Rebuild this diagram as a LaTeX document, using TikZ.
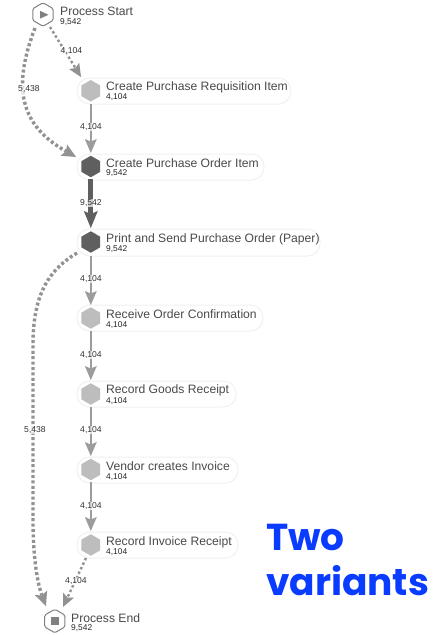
\documentclass[tikz,border=0pt]{standalone}
\usepackage{fontspec}
\setmainfont{Liberation Sans}
\newfontfamily\popp{Poppins}
\usetikzlibrary{shapes.geometric,arrows.meta,calc}
\definecolor{lightact}{HTML}{BDBDBD}
\definecolor{darkact}{HTML}{5F5F5F}
\definecolor{edgeg}{HTML}{9C9C9C}
\definecolor{dote}{HTML}{929292}
\definecolor{ringg}{HTML}{808080}
\definecolor{pillb}{HTML}{F1F1F1}
\definecolor{txt}{HTML}{4A4A4A}
\definecolor{bluet}{HTML}{0A3CFF}
\tikzset{
  x=1pt,y=-1pt,
  hexa/.style={regular polygon,regular polygon sides=6,shape border rotate=30,minimum size=21.5pt,inner sep=0pt,draw=none},
  lighthex/.style={hexa,fill=lightact},
  darkhex/.style={hexa,fill=darkact},
  ringhex/.style={hexa,fill=white,draw=ringg,line width=1pt,rounded corners=1.5pt,minimum size=23.5pt},
  pill/.style={rounded corners=12.5pt,draw=pillb,line width=1pt,fill=white},
  title/.style={anchor=west,inner sep=0pt,text=txt,font=\fontsize{12.15}{12}\selectfont},
  freq/.style={anchor=west,inner sep=0pt,text=black!85,font=\fontsize{8.4}{9}\selectfont},
  elabel/.style={inner sep=.5pt,fill=white,fill opacity=.7,text opacity=1,text=black!80,font=\fontsize{8.6}{9}\selectfont},
  solidedge/.style={draw=edgeg,line width=2.6pt,-{Stealth[length=14pt,width=12pt,inset=2.5pt,line width=0pt]}},
  heavyedge/.style={draw=darkact,line width=5pt,-{Stealth[length=17pt,width=14pt,inset=3pt,line width=0pt]}},
  dotthin/.style={draw=dote,line width=2.4pt,dash pattern=on 2.5pt off 2.5pt,-{Stealth[length=13pt,width=12pt,inset=2.5pt,line width=0pt]}},
  dotthick/.style={draw=dote,line width=3.4pt,dash pattern=on 3pt off 2.4pt,-{Stealth[length=14pt,width=13pt,inset=2.5pt,line width=0pt]}},
}
\begin{document}
\begin{tikzpicture}
\useasboundingbox (0,0) rectangle (440,635);
\fill[white] (0,0) rectangle (440,635);
% pills
\draw[pill] (77,78) rectangle (291,104);
\draw[pill] (77,154) rectangle (264,180);
\draw[pill] (77,229) rectangle (320,256);
\draw[pill] (77,305) rectangle (263,331);
\draw[pill] (77,381) rectangle (236,407);
\draw[pill] (77,457) rectangle (238,483);
\draw[pill] (77,532) rectangle (238,558);
% hexagons
\node[ringhex] (start) at (43,14.5) {};
\node[lighthex] (req) at (90.8,90.8) {};
\node[darkhex] (po) at (90.8,166.5) {};
\node[darkhex] (print) at (90.8,242) {};
\node[lighthex] (conf) at (90.8,318) {};
\node[lighthex] (goods) at (90.8,394) {};
\node[lighthex] (inv) at (90.8,469.5) {};
\node[lighthex] (rec) at (90.8,545) {};
\node[ringhex] (end) at (54.8,621) {};
\fill[ringg] (40,10.8) -- (48.5,14.8) -- (40,18.6) -- cycle;
\fill[ringg] (51,617) rectangle (58.6,624.6);
% coordinates for edge ends
\coordinate (sA) at (50,27);
\coordinate (sB) at (35,28);
\coordinate (reqT) at (81,77);
\coordinate (poL) at (76,157);
\coordinate (prL) at (77,253);
\coordinate (endL) at (46,606);
\coordinate (recB) at (86,558);
\coordinate (endR) at (63,607);
% edges
\draw[dotthin] (sA) -- (reqT);
\draw[dotthick] (sB) .. controls (12,88) and (20,125) .. (poL);
\draw[solidedge] (90.8,104) -- (90.8,153);
\draw[heavyedge] (90.8,179) -- (90.8,228);
\draw[solidedge] (90.8,256) -- (90.8,305);
\draw[solidedge] (90.8,331) -- (90.8,380);
\draw[solidedge] (90.8,407) -- (90.8,456);
\draw[solidedge] (90.8,482) -- (90.8,531);
\draw[dotthick] (prL) .. controls (45,272) and (33,300) .. (33,345) -- (33,520) .. controls (33,560) and (38,585) .. (endL);
\draw[dotthin] (recB) -- (endR);
% edge labels
\node[elabel] at (71.5,51) {4,104};
\node[elabel] at (29,89.5) {5,438};
\node[elabel] at (91,127) {4,104};
\node[elabel] at (91,203) {9,542};
\node[elabel] at (91,279) {4,104};
\node[elabel] at (91,355) {4,104};
\node[elabel] at (91,430) {4,104};
\node[elabel] at (91,506) {4,104};
\node[elabel] at (35,430) {5,438};
\node[elabel] at (76,581) {4,104};
% texts
\node[title] at (60,11) {Process Start};
\node[freq] at (60,22.5) {9,542};
\node[title] at (106,87) {Create Purchase Requisition Item};
\node[freq] at (106,97.5) {4,104};
\node[title] at (106,163) {Create Purchase Order Item};
\node[freq] at (106,173.5) {9,542};
\node[title] at (106,239) {Print and Send Purchase Order (Paper)};
\node[freq] at (106,249.5) {9,542};
\node[title] at (106,314) {Receive Order Confirmation};
\node[freq] at (106,325.5) {4,104};
\node[title] at (106,390) {Record Goods Receipt};
\node[freq] at (106,401.5) {4,104};
\node[title] at (106,466) {Vendor creates Invoice};
\node[freq] at (106,477) {4,104};
\node[title] at (106,542) {Record Invoice Receipt};
\node[freq] at (106,552.5) {4,104};
\node[title] at (71,618) {Process End};
\node[freq] at (71,628.5) {9,542};
\node[anchor=west,inner sep=0pt,text=bluet,font=\popp\bfseries\fontsize{37.5}{37.5}\selectfont] at (266,537) {Two};
\node[anchor=west,inner sep=0pt,text=bluet,font=\popp\bfseries\fontsize{37.5}{37.5}\selectfont] at (266,581) {variants};
\end{tikzpicture}
\end{document}
